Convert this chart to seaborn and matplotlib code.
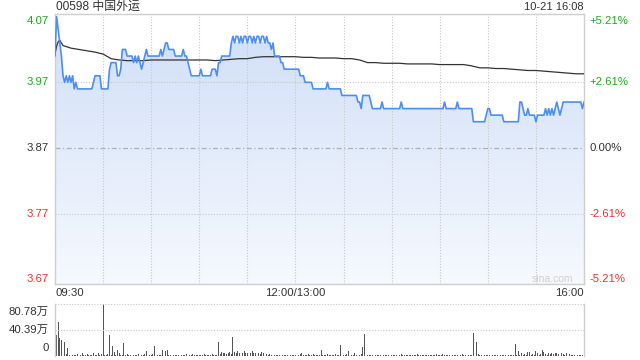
import numpy as np
import pandas as pd
import matplotlib
matplotlib.use("Agg")
import matplotlib.pyplot as plt
from matplotlib.colors import LinearSegmentedColormap
import seaborn as sns

sns.set_theme(style="white")
plt.rcParams['font.family'] = ['Liberation Sans', 'Noto Sans CJK SC', 'DejaVu Sans']

title_text = "00598 中国外运"
date_text = "10-21 16:08"
x_labels = ["09:30", "12:00/13:00", "16:00"]
price_ticks = [4.07, 3.97, 3.87, 3.77, 3.67]
pct_labels = ["+5.21%", "+2.61%", "0.00%", "-2.61%", "-5.21%"]
vol_labels = ["80.78万", "40.39万", "0"]
vol_max = 80.78

# minute-by-minute price (09:30 .. 16:00, lunch break removed)
prices = [
    4.01, 4.07, 4.05, 4.03, 4.01, 3.98, 3.97, 3.98, 3.97, 3.98,
    3.97, 3.98, 3.96, 3.97, 3.96, 3.96, 3.96, 3.96, 3.96, 3.96,
    3.96, 3.96, 3.96, 3.96, 3.97, 3.98, 3.98, 3.98, 3.98, 3.96,
    3.96, 3.96, 3.96, 3.96, 3.99, 4.00, 4.00, 4.00, 4.00, 3.98,
    3.98, 3.99, 4.02, 4.02, 4.02, 4.01, 4.01, 4.01, 4.01, 4.00,
    4.01, 4.00, 4.01, 4.00, 3.99, 4.00, 4.01, 4.02, 4.01, 4.01,
    4.01, 4.01, 4.01, 4.01, 4.01, 4.01, 4.02, 4.01, 4.02, 4.03,
    4.03, 4.02, 4.02, 4.02, 4.02, 4.01, 4.01, 4.01, 4.01, 4.01,
    4.02, 4.01, 4.01, 4.00, 3.99, 3.98, 3.98, 3.98, 3.98, 3.98,
    3.98, 3.99, 3.98, 3.98, 3.98, 3.98, 3.98, 3.98, 3.99, 3.99,
    3.99, 3.98, 4.00, 4.00, 4.01, 4.01, 4.01, 4.01, 4.01, 4.01,
    4.03, 4.04, 4.03, 4.04, 4.04, 4.03, 4.04, 4.03, 4.04, 4.04,
    4.03, 4.04, 4.04, 4.03, 4.04, 4.03, 4.04, 4.04, 4.03, 4.04,
    4.04, 4.03, 4.04, 4.03, 4.03, 4.02, 4.03, 4.01, 4.01, 4.01,
    4.01, 4.00, 4.00, 3.99, 3.99, 3.99, 3.99, 3.99, 3.99, 3.99,
    3.99, 3.99, 3.99, 3.98, 3.98, 3.98, 3.97, 3.97, 3.97, 3.97,
    3.97, 3.96, 3.96, 3.96, 3.96, 3.96, 3.96, 3.96, 3.96, 3.96,
    3.97, 3.96, 3.96, 3.96, 3.96, 3.96, 3.96, 3.96, 3.96, 3.95,
    3.95, 3.95, 3.95, 3.95, 3.95, 3.95, 3.95, 3.95, 3.95, 3.94,
    3.94, 3.93, 3.95, 3.95, 3.95, 3.95, 3.95, 3.94, 3.93, 3.93,
    3.93, 3.93, 3.93, 3.93, 3.94, 3.93, 3.93, 3.93, 3.93, 3.93,
    3.93, 3.93, 3.93, 3.93, 3.93, 3.93, 3.94, 3.93, 3.93, 3.93,
    3.93, 3.93, 3.93, 3.93, 3.93, 3.93, 3.93, 3.93, 3.93, 3.93,
    3.93, 3.93, 3.93, 3.93, 3.93, 3.93, 3.93, 3.93, 3.93, 3.93,
    3.93, 3.93, 3.93, 3.94, 3.93, 3.93, 3.93, 3.93, 3.93, 3.93,
    3.93, 3.94, 3.93, 3.93, 3.93, 3.93, 3.93, 3.93, 3.93, 3.93,
    3.93, 3.91, 3.91, 3.91, 3.91, 3.91, 3.91, 3.91, 3.91, 3.92,
    3.93, 3.93, 3.92, 3.92, 3.92, 3.92, 3.92, 3.92, 3.92, 3.92,
    3.91, 3.91, 3.91, 3.91, 3.91, 3.91, 3.91, 3.91, 3.91, 3.91,
    3.94, 3.94, 3.93, 3.92, 3.92, 3.93, 3.92, 3.92, 3.92, 3.92,
    3.91, 3.92, 3.92, 3.92, 3.92, 3.92, 3.93, 3.92, 3.93, 3.92,
    3.93, 3.92, 3.93, 3.94, 3.93, 3.92, 3.93, 3.94, 3.94, 3.94,
    3.94, 3.94, 3.94, 3.94, 3.94, 3.94, 3.94, 3.94, 3.94, 3.93,
    3.94,
]

# average price line, read at selected minutes
avg_minutes = [0, 1, 2, 3, 4, 5, 10, 15, 20, 25, 30, 35, 40, 45, 50, 55, 60, 65,
               70, 75, 80, 85, 90, 95, 100, 105, 110, 115, 120, 125, 130, 135,
               140, 145, 150, 155, 160, 165, 170, 175, 180, 185, 190, 195, 200,
               205, 210, 215, 220, 225, 230, 235, 240, 245, 250, 255, 260, 265,
               270, 275, 280, 285, 290, 295, 300, 305, 310, 315, 320, 325, 330]
avg_values = [4.013, 4.025, 4.032, 4.034, 4.030, 4.026, 4.022, 4.020, 4.018,
              4.016, 4.013, 4.006, 4.004, 4.003, 4.003, 4.003, 4.004, 4.004,
              4.004, 4.004, 4.004, 4.004, 4.004, 4.004, 4.003, 4.004, 4.005,
              4.006, 4.006, 4.008, 4.009, 4.009, 4.009, 4.009, 4.009, 4.008,
              4.008, 4.007, 4.007, 4.007, 4.006, 4.006, 4.004, 4.000, 4.000,
              3.999, 3.999, 3.999, 3.998, 3.998, 3.998, 3.998, 3.997, 3.997,
              3.997, 3.997, 3.995, 3.992, 3.992, 3.991, 3.991, 3.990, 3.989,
              3.988, 3.988, 3.987, 3.986, 3.985, 3.984, 3.983, 3.983]

# minute volume (万股)
volumes = [
    77, 33, 53, 28, 25, 26, 22, 3, 12, 2,
    9, 2, 1, 2, 3, 1, 2, 4, 1, 2,
    3, 1, 2, 1, 4, 2, 2, 5, 1, 3,
    80.78, 2, 1, 3, 32, 2, 15, 6, 2, 9,
    5, 2, 1, 20, 2, 3, 1, 2, 3, 1,
    2, 1, 3, 2, 1, 2, 3, 8, 2, 1,
    2, 3, 15, 2, 1, 2, 1, 10, 2, 7,
    10, 2, 1, 3, 1, 2, 2, 1, 3, 2,
    1, 2, 3, 1, 2, 1, 3, 2, 1, 2,
    2, 1, 2, 3, 1, 2, 1, 2, 3, 2,
    1, 2, 21, 3, 6, 4, 5, 3, 4, 6,
    3, 29, 6, 5, 7, 4, 6, 5, 7, 4,
    5, 6, 4, 7, 5, 4, 6, 5, 3, 6,
    4, 5, 3, 2, 3, 2, 1, 2, 1, 2,
    1, 2, 1, 2, 1, 1, 2, 1, 2, 1,
    2, 1, 2, 3, 5, 2, 1, 2, 3, 1,
    2, 3, 1, 2, 1, 2, 9, 2, 1, 2,
    3, 1, 2, 1, 2, 3, 1, 2, 17, 2,
    1, 2, 3, 8, 2, 1, 2, 5, 2, 1,
    2, 3, 14, 34, 5, 2, 1, 2, 1, 2,
    1, 2, 1, 2, 1, 1, 2, 1, 2, 1,
    1, 2, 1, 1, 2, 1, 3, 2, 1, 2,
    1, 2, 1, 2, 1, 2, 3, 1, 2, 1,
    2, 1, 1, 2, 1, 2, 1, 1, 3, 1,
    2, 1, 3, 2, 1, 2, 1, 2, 1, 2,
    1, 2, 1, 2, 3, 2, 1, 2, 1, 2,
    2, 36, 2, 22, 3, 2, 1, 2, 1, 2,
    1, 2, 1, 1, 2, 1, 2, 1, 1, 2,
    1, 2, 1, 2, 1, 2, 1, 19, 2, 7,
    2, 5, 2, 3, 2, 6, 6, 2, 3, 2,
    7, 5, 2, 3, 9, 6, 3, 2, 5, 3,
    4, 3, 5, 5, 3, 2, 4, 3, 2, 4,
    2, 3, 2, 1, 2, 3, 1, 2, 1, 2,
    15,
]

minutes = list(range(len(prices)))
df = pd.DataFrame({"minute": minutes, "price": prices, "volume": volumes})
avg_df = pd.DataFrame({"minute": avg_minutes, "avg": avg_values})

GREEN = "#1fa81f"
RED = "#f03030"
DARK = "#333333"
GRID = "#c8c8c8"
BORDER = "#cfcfcf"
LINE = "#4d8ef4"

W, H = 640, 360
fig = plt.figure(figsize=(6.4, 3.6), dpi=100)
fig.patch.set_facecolor("white")

ax = fig.add_axes([55 / W, 1 - 284 / H, 529 / W, 270 / H])
axv = fig.add_axes([55 / W, 1 - 356 / H, 529 / W, 52 / H])

ylo, yhi = 3.663, 4.074
ax.set_xlim(0, 330)
ax.set_ylim(ylo, yhi)

# gradient fill under price line
fill = ax.fill_between(df["minute"], df["price"], ylo, color="none", lw=0)
cmap = LinearSegmentedColormap.from_list("g", ["#f6f9fe", "#d3e1f8"])
grad = np.linspace(0, 1, 256).reshape(-1, 1)
im = ax.imshow(grad, cmap=cmap, aspect="auto", origin="lower",
               extent=[0, 330, ylo, 4.03], zorder=1)
im.set_clip_path(fill.get_paths()[0], transform=ax.transData)
ax.set_xlim(0, 330)
ax.set_ylim(ylo, yhi)

# grid lines
for m in range(30, 330, 30):
    ax.axvline(m, color=GRID, lw=0.8, ls=(0, (1, 1.5)), zorder=2)
for p in [3.97, 3.77]:
    ax.axhline(p, color=GRID, lw=0.8, ls=(0, (1, 1.5)), zorder=2)
ax.axhline(3.87, color="#b0b0b0", lw=0.9, ls=(0, (4, 2, 1, 2)), zorder=2)

sns.lineplot(data=avg_df, x="minute", y="avg", ax=ax, color=DARK, lw=0.9, zorder=3)
sns.lineplot(data=df, x="minute", y="price", ax=ax, color=LINE, lw=1.2, zorder=4)

ax.set_xlabel("")
ax.set_ylabel("")
ax.set_xticks([])
ax.set_yticks([])
for s in ax.spines.values():
    s.set_visible(True)
    s.set_color(BORDER)
    s.set_linewidth(1)

# y labels
label_y = [4.064, 3.97, 3.87, 3.77, 3.67]
label_colors = [GREEN, GREEN, DARK, RED, RED]
for yv, t, pl, c in zip(label_y, price_ticks, pct_labels, label_colors):
    ax.text(-0.012, yv, f"{t:.2f}", transform=ax.get_yaxis_transform(),
            ha="right", va="center", fontsize=8.2, color=c)
    ax.text(1.011, yv, pl, transform=ax.get_yaxis_transform(),
            ha="left", va="center", fontsize=8.2, color=c)

# x labels
ax.text(0, -0.033, x_labels[0], transform=ax.transAxes, ha="left", va="center",
        fontsize=8.2, color=DARK)
ax.text(150 / 330, -0.033, x_labels[1], transform=ax.transAxes, ha="center",
        va="center", fontsize=8.2, color=DARK)
ax.text(1, -0.033, x_labels[2], transform=ax.transAxes, ha="right", va="center",
        fontsize=8.2, color=DARK)

# title and date
fig.text(56 / W, 1 - 7 / H, title_text, ha="left", va="center", fontsize=8.6, color=DARK)
fig.text(584 / W, 1 - 7 / H, date_text, ha="right", va="center", fontsize=8, color=DARK)

# watermark
ax.text(0.98, 0.02, "sina.com", transform=ax.transAxes, ha="right", va="center",
        fontsize=7.5, color="#d0d0d0", zorder=5)

# volume panel
axv.bar(df["minute"], df["volume"], width=0.55, color="#555555", lw=0, clip_on=False)
axv.set_xlim(0, 330)
axv.set_ylim(0, vol_max)
axv.axhline(vol_max, color=GRID, lw=0.8, ls=(0, (1, 1.5)), clip_on=False)
axv.axhline(vol_max / 2, color=GRID, lw=0.8, ls=(0, (1, 1.5)))
axv.set_xticks([])
axv.set_yticks([])
axv.set_xlabel("")
axv.set_ylabel("")
for k, s in axv.spines.items():
    if k in ("left", "right"):
        s.set_visible(True)
        s.set_color(BORDER)
        s.set_linewidth(1)
    else:
        s.set_visible(False)

vol_label_y = [(356 - 311.5) / 52 * vol_max, vol_max / 2, (356 - 348) / 52 * vol_max]
for yv, t in zip(vol_label_y, vol_labels):
    axv.text(-0.012, yv, t, transform=axv.get_yaxis_transform(), ha="right",
             va="center", fontsize=8.2, color=DARK)

fig.savefig("out.png", dpi=100)
